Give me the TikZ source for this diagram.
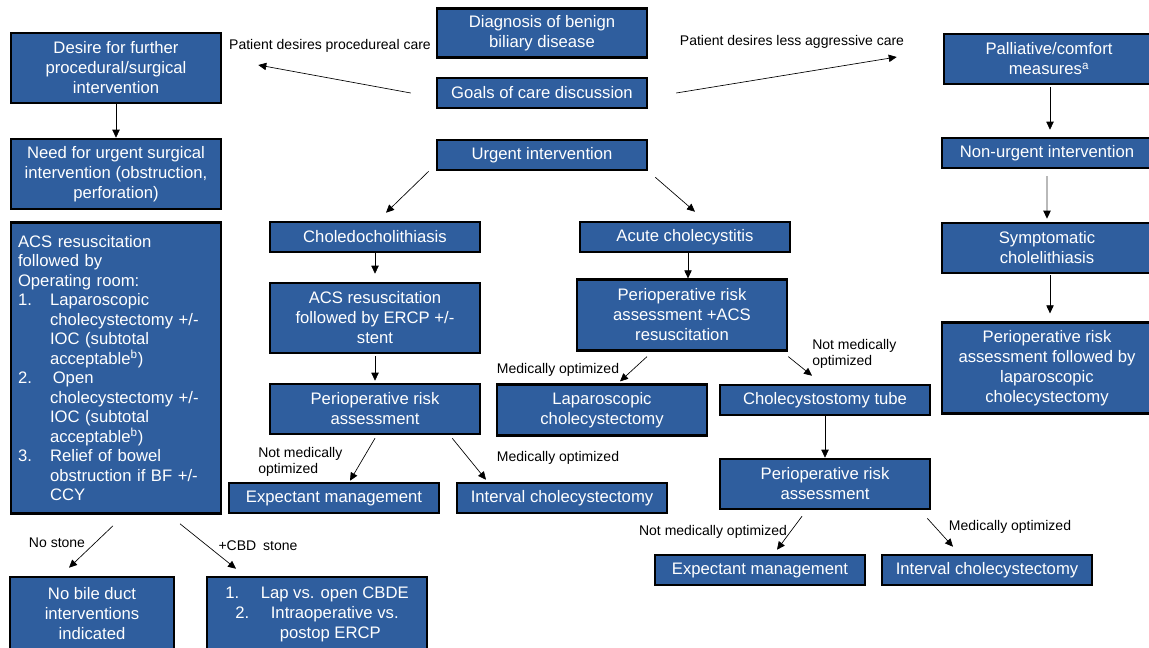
\documentclass[tikz,border=0pt]{standalone}
\usepackage{fontspec}
\setmainfont{Liberation Sans}
\usepackage{xcolor}
\usetikzlibrary{arrows.meta,calc}
\definecolor{boxblue}{RGB}{47,94,158}
\tikzset{
	box/.style={draw=black, line width=1.9pt, fill=boxblue, text=white, align=center,
			inner sep=1pt, minimum width=157.5pt, minimum height=22.5pt,
			font=\fontsize{12.5}{15}\selectfont},
	lbl/.style={align=left, inner sep=0pt, font=\fontsize{10.5}{11.5}\selectfont},
	conn/.style={line width=0.5pt, -{Triangle[length=6pt,width=5.5pt]}}
}
\newcommand{\acsnum}[1]{\makebox[24pt][l]{#1}}
\newcommand{\acsind}{\hspace*{24pt}}

\begin{document}
\begin{tikzpicture}[x=0.75pt, y=-0.75pt]
	\useasboundingbox (0,0) rectangle (1149,647);

	% centre column
	\node[box, minimum height=36.75pt] (diag) at (542,33) {Diagnosis of benign\\biliary disease};
	\node[box] (goals) at (542,93) {Goals of care discussion};
	\node[box] (urgent) at (542,155) {Urgent intervention};

	% left column
	\node[box, minimum height=52.5pt] (desire) at (116,68) {Desire for further\\procedural/surgical\\intervention};
	\node[box, minimum height=52.5pt] (need) at (116,174) {Need for urgent surgical\\intervention (obstruction,\\perforation)};
	\node[box, align=left, text width=147pt, inner xsep=5pt, minimum height=218.25pt,
		font=\fontsize{12.5}{14.6}\selectfont] (acs) at (116,368) {ACS resuscitation\\followed by\\Operating room:\\
		\acsnum{1.}Laparoscopic\\\acsind cholecystectomy +/-\\\acsind IOC (subtotal\\\acsind acceptable\textsuperscript{b})\\
		\acsnum{2.}\,Open\\\acsind cholecystectomy +/-\\\acsind IOC (subtotal\\\acsind acceptable\textsuperscript{b})\\
		\acsnum{3.}Relief of bowel\\\acsind obstruction if BF +/-\\\acsind CCY};
	\node[box, minimum width=123pt, minimum height=55.5pt] (nobile) at (92,614) {No bile duct\\interventions\\indicated};
	\node[box, minimum width=165pt, minimum height=55.5pt] (lapopen) at (317,614) {1.\hspace{1.3em}Lap vs. open CBDE\\2.\hspace{1.3em}Intraoperative vs.\\\hspace*{1.6em}postop ERCP};

	% choledocholithiasis branch
	\node[box] (chole) at (375,237) {Choledocholithiasis};
	\node[box, minimum height=52.5pt] (ercp) at (375,318) {ACS resuscitation\\followed by ERCP +/-\\stent};
	\node[box, minimum height=37.5pt] (periopL) at (375,409) {Perioperative risk\\assessment};
	\node[box] (expL) at (334,498) {Expectant management};
	\node[box] (intL) at (562,498) {Interval cholecystectomy};

	% acute cholecystitis branch
	\node[box] (acute) at (685,237) {Acute cholecystitis};
	\node[box, minimum height=53pt] (periopM) at (682,315) {Perioperative risk\\assessment +ACS\\resuscitation};
	\node[box, minimum height=38pt] (lap) at (602,410) {Laparoscopic\\cholecystectomy};
	\node[box] (tube) at (825,400) {Cholecystostomy tube};
	\node[box, minimum height=37.5pt] (periopR) at (825,484) {Perioperative risk\\assessment};
	\node[box] (expR) at (760,570) {Expectant management};
	\node[box] (intR) at (987,570) {Interval cholecystectomy};

	% right column
	\node[box, minimum height=37.5pt] (pall) at (1049,59) {Palliative/comfort\\measures\textsuperscript{a}};
	\node[box] (nonurg) at (1047,153) {Non-urgent intervention};
	\node[box, minimum height=37.5pt] (symp) at (1047,248) {Symptomatic\\cholelithiasis};
	\node[box, minimum height=68pt] (periopF) at (1047,368) {Perioperative risk\\assessment followed by\\laparoscopic\\cholecystectomy};

	% labels
	\node[lbl] (lproc) at (330,46) {Patient desires procedureal care};
	\node[lbl] (lless) at (792,42) {Patient desires less aggressive care};
	\node[lbl, anchor=west] (lnotL) at (258,462) {Not medically\\optimized};
	\node[lbl] (lmedL) at (558,458) {Medically optimized};
	\node[lbl] (lmedM) at (558,370) {Medically optimized};
	\node[lbl, anchor=west] (lnotM) at (812,354) {Not medically\\optimized};
	\node[lbl] (lnotR) at (713,532) {Not medically optimized};
	\node[lbl] (lmedR) at (1010,527) {Medically optimized};
	\node[lbl] (lnost) at (57,543) {No stone};
	\node[lbl] (lcbd) at (258,546) {+CBD\enspace stone};

	% connectors
	\draw[conn] ($(goals.west)+(-25,0)$) -- ($(desire.east)+(36,-3)$);
	\draw[conn] ($(goals.east)+(28,0)$) -- ($(pall.west)+(-46,-2)$);
	\draw[conn] (desire.south) -- (need.north);
	\draw[conn] ($(urgent.south west)+(-7,0)$) -- ($(chole.north)+(11,-8)$);
	\draw[conn] ($(urgent.south east)+(7,6)$) -- ($(acute.north)+(10,-9)$);
	\draw[conn] (chole.south) -- ($(ercp.north)+(0,-8)$);
	\draw[conn] ($(ercp.south)+(0,2)$) -- ($(periopL.north)+(0,-2)$);
	\draw[conn] ($(periopL.south)+(0,3)$) -- ($(expL.north)+(16,-1)$);
	\draw[conn] ($(periopL.south east)+(-29,3)$) -- ($(intL.north)+(-76,-2)$);
	\draw[conn] ($(acute.south)+(3,0)$) -- ($(periopM.north)+(6,0)$);
	\draw[conn] ($(periopM.south)+(-35,5)$) -- ($(lap.north)+(18,-2)$);
	\draw[conn] ($(periopM.south east)+(0,5)$) -- ($(tube.north)+(-13,-8)$);
	\draw[conn] (tube.south) -- (periopR.north);
	\draw[conn] ($(periopR.south)+(-23,6)$) -- ($(expR.north)+(17,-4)$);
	\draw[conn] ($(periopR.south east)+(-4,8)$) -- ($(intR.north)+(-34,-7)$);
	\draw[conn] ($(pall.south)+(1,2)$) -- ($(nonurg.north)+(3,-7)$);
	\draw[conn, line width=0.8pt, gray!55, -{Triangle[length=6pt,width=5.5pt,color=black]}] ($(nonurg.south)+(0,7)$) -- ($(symp.north)+(0,-3)$);
	\draw[conn] ($(symp.south)+(3,1)$) -- ($(periopF.north)+(3,-8)$);
	\draw[conn] ($(acs.south)+(-3,11)$) -- ($(nobile.north)+(-23,-8)$);
	\draw[conn] ($(acs.south)+(64,9)$) -- ($(lapopen.north)+(-81,-7)$);
\end{tikzpicture}
\end{document}
